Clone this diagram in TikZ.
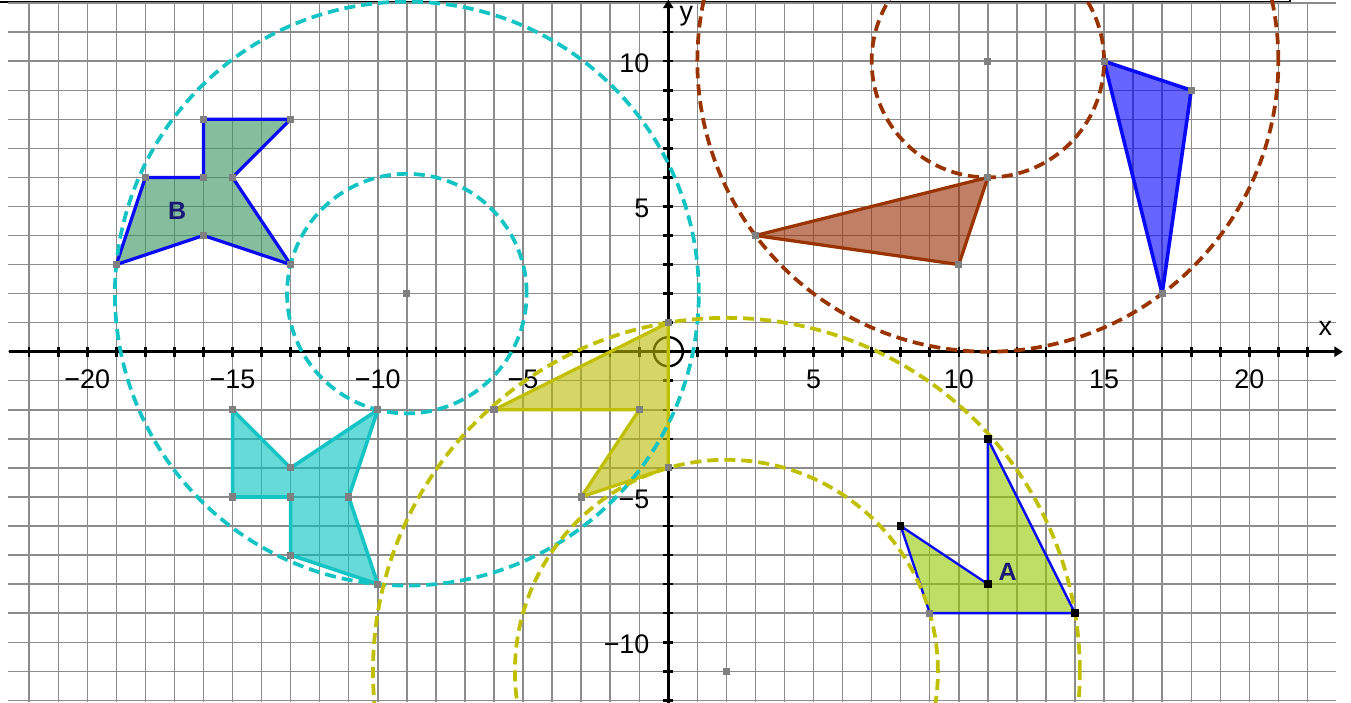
\documentclass[tikz,border=0pt]{standalone}
\usepackage{fontspec}
\setmainfont{Liberation Sans}
\usetikzlibrary{arrows.meta}
\definecolor{gridc}{RGB}{140,140,140}
\definecolor{ptgray}{RGB}{128,128,128}
\definecolor{cyanline}{RGB}{20,196,196}
\definecolor{cyanfill}{RGB}{0,192,192}
\definecolor{yelline}{RGB}{192,192,0}
\definecolor{yelfill}{RGB}{188,188,0}
\definecolor{brownline}{RGB}{153,51,0}
\definecolor{brownfill}{RGB}{153,43,0}
\definecolor{blueline}{RGB}{10,10,245}
\definecolor{bluefill}{RGB}{0,0,255}
\definecolor{greenfill}{RGB}{52,148,93}
\definecolor{limefill}{RGB}{147,200,0}
\definecolor{labnavy}{RGB}{25,25,120}
\begin{document}
\begin{tikzpicture}[x=0.6cm,y=0.6cm,
  gridline/.style={draw=gridc,line width=0.85pt},
  axisline/.style={draw=black,line width=1.5pt},
  ticklab/.style={font=\fontsize{15.8}{18}\selectfont,inner sep=0pt},
  dashcirc/.style={line width=2.2pt,dash pattern=on 6.5pt off 3.5pt},
  gpt/.style={rectangle,fill=ptgray,minimum size=4.2pt,inner sep=0pt},
  bpt/.style={rectangle,fill=black,minimum size=4.4pt,inner sep=0pt},
  polyedge/.style={line width=1.9pt,line join=round},
  shapelab/.style={font=\fontsize{14.7}{16}\selectfont\bfseries,text=labnavy,inner sep=0pt},
  axlab/.style={font=\fontsize{15.8}{18}\selectfont,inner sep=0pt},
  originmark/.style={circle,draw=black,line width=1.4pt,minimum size=0.6cm,inner sep=0pt}
]
\useasboundingbox (-23.005,-12.059) rectangle (23.50,12.107);
\begin{scope}
\clip (-23.005,-12.059) rectangle (23.50,12.107);
\fill[white] (-23.005,-12.059) rectangle (23.50,12.107);
% top frame line
\coordinate (fa) at (-23.005,12.04);
\coordinate (fb) at (21.40,12.04);
\coordinate (fc) at (21.40,12.2);
\draw[line width=0.8pt] (fa) -- (fb) -- (fc);
% grid
\foreach \i in {-12,...,12} \draw[gridline] (-22.73,\i) -- (22.98,\i);
\foreach \i in {-22,...,22} \draw[gridline] (\i,-12.06) -- (\i,12);
% axes
\coordinate (xs) at (-22.70,0);
\coordinate (xe) at (23.22,0);
\coordinate (ys) at (0,-12.2);
\coordinate (ye) at (0,12.12);
\draw[axisline,-{Triangle[length=5pt,width=6pt]}] (xs) -- (xe);
\draw[axisline,-{Triangle[length=5pt,width=6pt]}] (ys) -- (ye);
\foreach \i in {-22,...,22} \draw[axisline] (\i,-0.17) -- (\i,0.17);
\foreach \i in {-12,...,11} \draw[axisline] (-0.17,\i) -- (0.17,\i);
% tick labels
\foreach \v/\t in {-20/−20,-15/−15,-10/−10,-5/−5,5/5,10/10,15/15,20/20}
  \node[ticklab] (xl\v) at (\v,-0.94) {\t};
\foreach \v/\t in {10/10,5/5,-5/−5,-10/−10}
  \node[ticklab,anchor=east] (yl\v) at (-0.64,\v-0.08) {\t};
\node[axlab] (xlab) at (22.62,0.80) {x};
\node[axlab] (ylab) at (0.62,11.55) {y};
\node[originmark] (O) at (0,0) {};
% polygon B
\coordinate (b1) at (-19,3); \coordinate (b2) at (-18,6); \coordinate (b3) at (-16,6);
\coordinate (b4) at (-16,8); \coordinate (b5) at (-13,8); \coordinate (b6) at (-15,6);
\coordinate (b7) at (-13,3); \coordinate (b8) at (-16,4);
\fill[greenfill,fill opacity=0.6] (b1)--(b2)--(b3)--(b4)--(b5)--(b6)--(b7)--(b8)--cycle;
\draw[polyedge,blueline] (b1)--(b2)--(b3)--(b4)--(b5)--(b6)--(b7)--(b8)--cycle;
% cyan polygon
\coordinate (c1) at (-15,-2); \coordinate (c2) at (-13,-4); \coordinate (c3) at (-10,-2);
\coordinate (c4) at (-11,-5); \coordinate (c5) at (-10,-8); \coordinate (c6) at (-13,-7);
\coordinate (c7) at (-13,-5); \coordinate (c8) at (-15,-5);
\fill[cyanfill,fill opacity=0.6] (c1)--(c2)--(c3)--(c4)--(c5)--(c6)--(c7)--(c8)--cycle;
\draw[polyedge,cyanline,line width=2.1pt] (c1)--(c2)--(c3)--(c4)--(c5)--(c6)--(c7)--(c8)--cycle;
% yellow polygon
\coordinate (y1) at (-6,-2); \coordinate (y2) at (-1,-2); \coordinate (y3) at (-3,-5);
\coordinate (y4) at (0,-4); \coordinate (y5) at (0,1);
\fill[yelfill,fill opacity=0.6] (y1)--(y2)--(y3)--(y4)--(y5)--cycle;
\draw[polyedge,yelline] (y1)--(y2)--(y3)--(y4)--(y5)--cycle;
% polygon A
\coordinate (a1) at (8,-6); \coordinate (a2) at (11,-8); \coordinate (a3) at (11,-3);
\coordinate (a4) at (14,-9); \coordinate (a5) at (9,-9);
\fill[limefill,fill opacity=0.6] (a1)--(a2)--(a3)--(a4)--(a5)--cycle;
\draw[polyedge,blueline,line width=1.4pt] (a1)--(a2)--(a3)--(a4)--(a5)--cycle;
% brown triangle
\coordinate (r1) at (3,4); \coordinate (r2) at (11,6); \coordinate (r3) at (10,3);
\fill[brownfill,fill opacity=0.6] (r1)--(r2)--(r3)--cycle;
\draw[polyedge,brownline] (r1)--(r2)--(r3)--cycle;
% blue triangle
\coordinate (t1) at (15,10); \coordinate (t2) at (18,9); \coordinate (t3) at (17,2);
\fill[bluefill,fill opacity=0.6] (t1)--(t2)--(t3)--cycle;
\draw[polyedge,blueline,line width=2.1pt] (t1)--(t2)--(t3)--cycle;
% circles
\coordinate (cc) at (-9,2);
\coordinate (bc) at (11,10);
\coordinate (yc) at (2,-11);
\draw[dashcirc,cyanline] (cc) circle ({sqrt(101)});
\draw[dashcirc,cyanline] (cc) circle ({sqrt(17)});
\draw[dashcirc,brownline] (bc) circle (10);
\draw[dashcirc,brownline] (bc) circle (4);
\draw[dashcirc,yelline] (yc) circle ({sqrt(148)});
\draw[dashcirc,yelline] (yc) circle ({sqrt(53)});
% points
\node[gpt] (pcc) at (cc) {};
\node[gpt] (pbc) at (bc) {};
\node[gpt] (pyc) at (yc) {};
\foreach \p in {b1,b2,b3,b4,b5,b6,b7,b8,c1,c2,c3,c4,c5,c6,c7,c8,y1,y2,y3,y4,y5,r1,r2,r3,t1,t2,t3,a5}
  \node[gpt] (p\p) at (\p) {};
\foreach \p in {a1,a2,a3,a4}
  \node[bpt] (p\p) at (\p) {};
% shape labels
\node[shapelab] (labB) at (-16.905,4.86) {B};
\node[shapelab] (labA) at (11.68,-7.59) {A};
\end{scope}
\end{tikzpicture}
\end{document}
